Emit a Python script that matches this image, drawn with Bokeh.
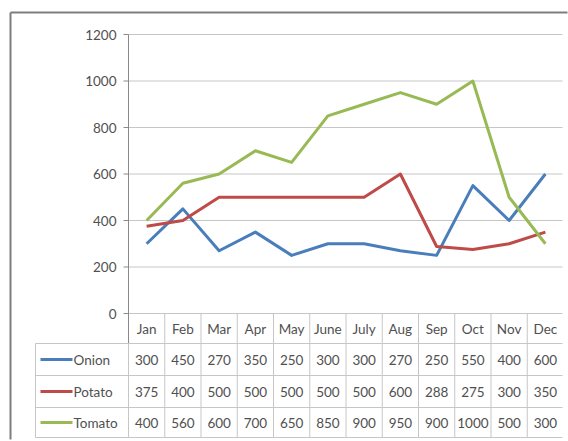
from bokeh.plotting import figure
from bokeh.models import Range1d
from bokeh.embed import file_html
from bokeh.resources import INLINE
from bokeh.core.properties import value

# ---------------- data ----------------
months = ["Jan", "Feb", "Mar", "Apr", "May", "June", "July", "Aug", "Sep", "Oct", "Nov", "Dec"]
series_names = ["Onion", "Potato", "Tomato"]
onion = [300, 450, 270, 350, 250, 300, 300, 270, 250, 550, 400, 600]
potato = [375, 400, 500, 500, 500, 500, 500, 600, 288, 275, 300, 350]
tomato = [400, 560, 600, 700, 650, 850, 900, 950, 900, 1000, 500, 300]
y_ticks = [0, 200, 400, 600, 800, 1000, 1200]

# ---------------- style ----------------
colors = ["#4a7ebb", "#be4b48", "#98b954"]
FONT = "Lato"
TXT = "#505050"
GRID = "#c6c6c6"
AXIS = "#8a8a8a"
BORDER = "#7e7e7e"
FS = "13.5px"

# ---------------- layout (page pixels) ----------------
PAGE_W, PAGE_H = 568, 440
X0 = 128.0                      # left edge of plot area / Jan column
COL = 36.25                     # width of one month column
Y0 = 313.0                      # pixel row of value 0
PPU = 279.0 / 1200.0            # pixels per value unit


def px_x(p):
    return (p - X0) / COL


def px_y(p):
    return (Y0 - p) / PPU


n = len(months)
xc = [i + 0.5 for i in range(n)]
series = [onion, potato, tomato]

p = figure(width=PAGE_W, height=PAGE_H,
           x_range=Range1d(px_x(0), px_x(PAGE_W)), y_range=Range1d(px_y(PAGE_H), px_y(0)),
           output_backend="svg", toolbar_location=None,
           x_axis_location=None, y_axis_location=None,
           min_border_left=0, min_border_right=0, min_border_top=0, min_border_bottom=0)
p.outline_line_color = None
p.grid.visible = False
p.background_fill_color = "white"
p.border_fill_color = "white"

# chart border (left and top edges of the chart object), kept inside the canvas
bx, by = px_x(10), px_y(12)
p.segment(x0=[bx, bx], y0=[by, by], x1=[bx, px_x(PAGE_W - 1)], y1=[px_y(PAGE_H - 1), by],
          line_color=BORDER, line_width=2, line_cap="butt")

# value gridlines and axis
x_end = px_x(562)
p.segment(x0=[0] * len(y_ticks), y0=y_ticks, x1=[x_end] * len(y_ticks), y1=y_ticks,
          line_color=GRID, line_width=1)
p.segment(x0=[0], y0=[max(y_ticks)], x1=[0], y1=[px_y(343)], line_color=AXIS, line_width=1)
p.segment(x0=[px_x(123)] * len(y_ticks), y0=y_ticks, x1=[0] * len(y_ticks), y1=y_ticks,
          line_color=AXIS, line_width=1)
p.text(x=[px_x(116)] * len(y_ticks), y=y_ticks, text=[str(t) for t in y_ticks],
       text_align="right", text_baseline="middle",
       text_font=value(FONT), text_font_size=FS, text_color=TXT)

# series lines
for vals, c in zip(series, colors):
    p.line(x=xc, y=vals, line_color=c, line_width=3, line_join="round")

# ---------------- data table ----------------
header_mid = px_y(328)
row_lines = [px_y(343), px_y(375), px_y(407), px_y(437)]
row_mid = [px_y(359), px_y(391), px_y(422)]
t_left = px_x(35)
t_bottom = px_y(437)

# horizontal rules of the table rows
p.segment(x0=[t_left] * len(row_lines), y0=row_lines, x1=[x_end] * len(row_lines), y1=row_lines,
          line_color=GRID, line_width=1)
# column separators (through header and rows)
seps = list(range(1, n))
p.segment(x0=seps, y0=[0] * len(seps), x1=seps, y1=[t_bottom] * len(seps),
          line_color=GRID, line_width=1)
p.segment(x0=[0, t_left], y0=[px_y(343)] * 2, x1=[0, t_left], y1=[t_bottom] * 2,
          line_color=GRID, line_width=1)

# month labels
p.text(x=xc, y=[header_mid] * n, text=months, text_align="center", text_baseline="middle",
       text_font=value(FONT), text_font_size=FS, text_color=TXT)

# series rows: legend key, name and values
for r, (name, vals, c) in enumerate(zip(series_names, series, colors)):
    yy = row_mid[r]
    p.segment(x0=[px_x(40)], y0=[yy], x1=[px_x(72)], y1=[yy], line_color=c, line_width=3)
    p.text(x=[px_x(73)], y=[yy], text=[name], text_align="left", text_baseline="middle",
           text_font=value(FONT), text_font_size=FS, text_color=TXT)
    p.text(x=xc, y=[yy] * n, text=[str(v) for v in vals], text_align="center",
           text_baseline="middle", text_font=value(FONT), text_font_size=FS, text_color=TXT)

open("out.html", "w").write(file_html(p, INLINE))
